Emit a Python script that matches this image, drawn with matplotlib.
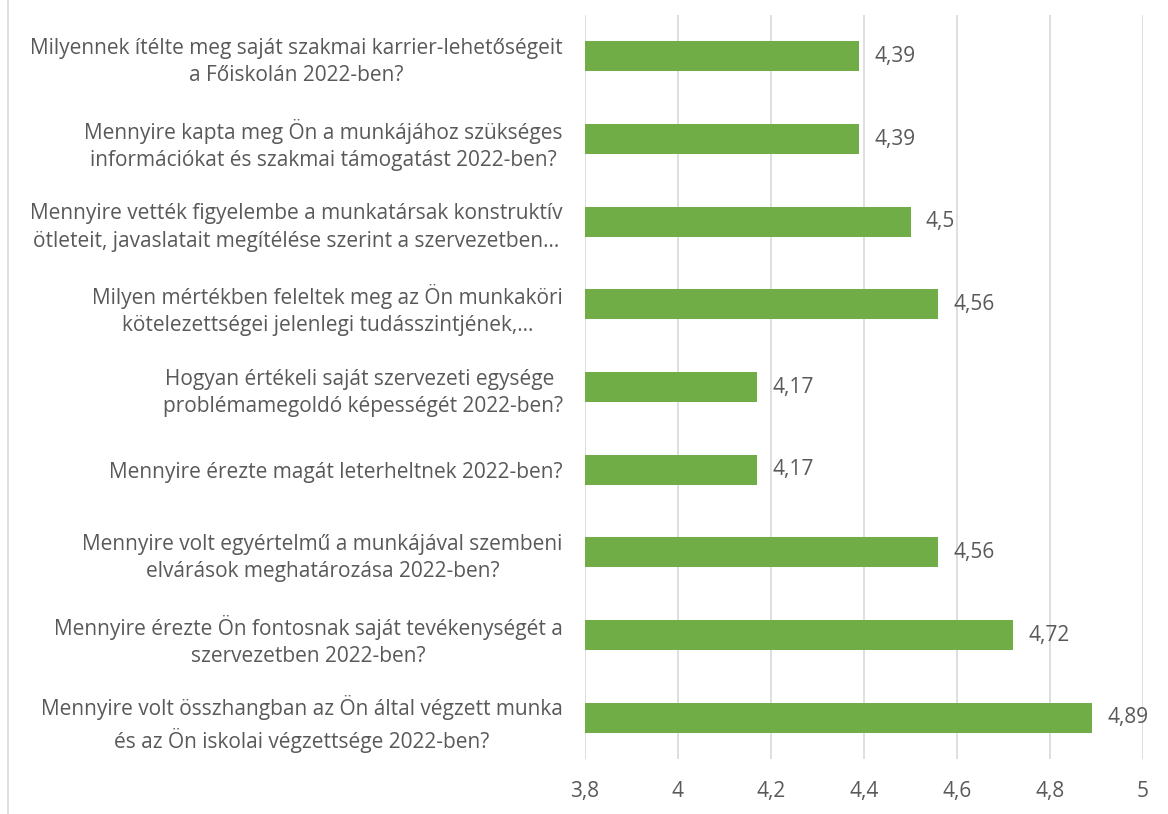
import matplotlib.pyplot as plt
from matplotlib.lines import Line2D

plt.rcParams['font.family'] = ['Open Sans', 'DejaVu Sans']

questions = [
    "Milyennek ítélte meg saját szakmai karrier-lehetőségeit\na Főiskolán 2022-ben?",
    "Mennyire kapta meg Ön a munkájához szükséges\ninformációkat és szakmai támogatást 2022-ben?",
    "Mennyire vették figyelembe a munkatársak konstruktív\nötleteit, javaslatait megítélése szerint a szervezetben…",
    "Milyen mértékben feleltek meg az Ön munkaköri\nkötelezettségei jelenlegi tudásszintjének,…",
    "Hogyan értékeli saját szervezeti egysége \nproblémamegoldó képességét 2022-ben?",
    "Mennyire érezte magát leterheltnek 2022-ben?",
    "Mennyire volt egyértelmű a munkájával szembeni\nelvárások meghatározása 2022-ben?",
    "Mennyire érezte Ön fontosnak saját tevékenységét a\nszervezetben 2022-ben?",
    "Mennyire volt összhangban az Ön által végzett munka\nés az Ön iskolai végzettsége 2022-ben?",
]
scores = [4.39, 4.39, 4.5, 4.56, 4.17, 4.17, 4.56, 4.72, 4.89]
x_ticks = [3.8, 4.0, 4.2, 4.4, 4.6, 4.8, 5.0]

txt = '#595959'
fs = 15
fig = plt.figure(figsize=(11.68, 8.14), dpi=100)
ax = fig.add_axes([585/1168, 55/814, 558/1168, 744/814])

pos = list(range(len(scores)))[::-1]
ax.barh(pos, [s - 3.8 for s in scores], left=3.8, height=0.36, color='#70AD47', zorder=3)

for p, s in zip(pos, scores):
    lab = f"{s:g}".replace('.', ',')
    ax.annotate(lab, (s, p), xytext=(11, 0), textcoords='offset points',
                va='center', ha='left', fontsize=fs, color=txt)

ax.set_xlim(3.8, 5.0)
ax.set_ylim(-0.5, len(scores) - 0.5)
ax.set_xticks(x_ticks)
ax.set_xticklabels([f"{t:g}".replace('.', ',') for t in x_ticks])
ax.set_yticks(pos)
ax.set_yticklabels(questions, multialignment='center', linespacing=1.4)
ax.tick_params(axis='x', length=0, pad=16, labelsize=fs, labelcolor=txt)
ax.tick_params(axis='y', length=0, pad=16, labelsize=fs, labelcolor=txt)
ax.grid(axis='x', color='#D9D9D9', linewidth=1.2, zorder=0)
for sp in ax.spines.values():
    sp.set_visible(False)

# chart frame edge on the left
fig.add_artist(Line2D([8/1168, 8/1168], [0, 1], color='#D9D9D9', linewidth=1.2))

fig.savefig('out.png', dpi=100)
